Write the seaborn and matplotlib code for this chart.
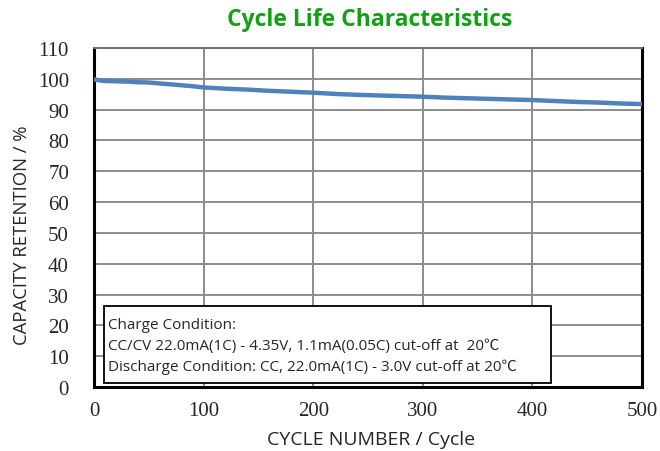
import matplotlib
matplotlib.use("Agg")
import matplotlib.pyplot as plt
import seaborn as sns
import pandas as pd
from matplotlib.patches import Rectangle

cycles = [0, 5, 10, 20, 30, 40, 50, 60, 70, 80, 90, 100, 120, 140, 160, 180, 200,
          220, 240, 260, 280, 300, 320, 340, 360, 380, 400, 420, 440, 460, 480, 500]
retention = [99.8, 99.5, 99.3, 99.2, 99.1, 98.9, 98.8, 98.5, 98.2, 97.9, 97.6, 97.2,
             96.8, 96.5, 96.1, 95.8, 95.5, 95.1, 94.8, 94.6, 94.4, 94.2, 93.9, 93.7,
             93.5, 93.3, 93.1, 92.8, 92.5, 92.3, 92.0, 91.8]
x_ticks = [0, 100, 200, 300, 400, 500]
y_ticks = list(range(0, 111, 10))
title = "Cycle Life Characteristics"
xlabel = "CYCLE NUMBER / Cycle"
ylabel = "CAPACITY RETENTION / %"
note_lines = ["Charge Condition:",
              "CC/CV 22.0mA(1C) - 4.35V, 1.1mA(0.05C) cut-off at  20\u2103",
              "Discharge Condition: CC, 22.0mA(1C) - 3.0V cut-off at 20\u2103"]

df = pd.DataFrame({"cycle": cycles, "retention": retention})

sns.set_style("white")
W, H = 660, 452
fig = plt.figure(figsize=(6.6, 4.52), dpi=100)
ax = fig.add_axes([94/W, 1-388/H, 548/W, 339/H])

sns.lineplot(data=df, x="cycle", y="retention", ax=ax, color="#4F81BD",
             linewidth=3.2, zorder=3)

ax.set_xlim(0, 500)
ax.set_ylim(0, 110)
ax.set_xticks(x_ticks)
ax.set_yticks(y_ticks)
ax.grid(True, color="#8c8c8c", linewidth=1.4)
for lbl in ax.get_xticklabels() + ax.get_yticklabels():
    lbl.set_fontfamily("Liberation Serif")
    lbl.set_fontsize(15)
ax.tick_params(axis="x", length=0, pad=10)
ax.tick_params(axis="y", length=0, pad=18)
for s in ["left", "right", "top", "bottom"]:
    ax.spines[s].set_visible(True)
    ax.spines[s].set_color("black")
ax.spines["left"].set_linewidth(2.2)
ax.spines["right"].set_linewidth(2.2)
ax.spines["bottom"].set_linewidth(2.2)
ax.spines["top"].set_linewidth(1.4)
ax.spines["top"].set_color("#6e6e6e")
ax.set_xlabel("")
ax.set_ylabel("")

fam = ["Open Sans", "Noto Sans CJK SC", "DejaVu Sans"]
fig.text(371/W, 1-440/H, xlabel, ha="center", va="center", family=fam, fontsize=14)
fig.text(22/W, 1-235/H, ylabel, ha="center", va="center", rotation=90,
         family=fam, fontsize=13.3)
fig.text(370/W, 1-20/H, title, ha="center", va="center",
         family=fam, fontweight="bold", fontsize=16.5, color="#14A014")

# note box (figure pixel coords)
x0, y0, x1, y1 = 104, 307, 551, 384
box = Rectangle((x0/W, 1-y1/H), (x1-x0)/W, (y1-y0)/H,
                transform=fig.transFigure, facecolor="white", edgecolor="black",
                linewidth=1.3, zorder=5)
fig.patches.append(box)
for i, line in enumerate(note_lines):
    fig.text((x0+4)/W, 1-(326+i*20.5)/H, line, ha="left", va="center",
             family=fam, fontsize=11, zorder=6)

fig.savefig("out.png", dpi=100)
